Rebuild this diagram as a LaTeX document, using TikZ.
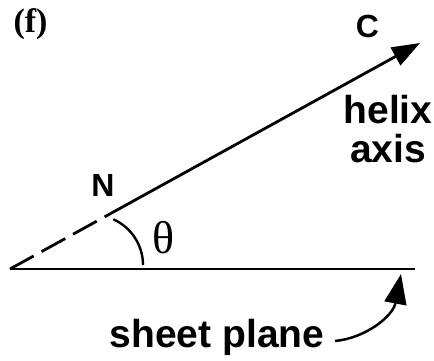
\documentclass[tikz,border=0pt]{standalone}
\usepackage{fontspec}
\setmainfont{Liberation Serif}
\newfontfamily\hv{Liberation Sans}
\usetikzlibrary{arrows.meta,calc}
\newcommand\fsz[1]{\fontsize{#1pt}{#1pt}\selectfont}
\tikzset{
  lbl/.style={font=\hv\bfseries\fsz{32}, inner sep=0pt},
  biglbl/.style={font=\hv\bfseries\fsz{39}, inner sep=0pt, align=center},
  axisline/.style={line width=2.8pt},
  planeline/.style={line width=2.3pt},
}
\begin{document}
\begin{tikzpicture}[x=1pt,y=1pt]
\useasboundingbox (0,0) rectangle (434,361);
\coordinate (apex) at (10,92);
\coordinate (pend) at (415,92);
\coordinate (tip) at (420,318);
\coordinate (npt) at ($(apex)!108pt!(tip)$);
% sheet plane
\draw[planeline] (apex) -- (pend);
% helix axis
\draw[axisline, dash pattern=on 27pt off 9pt] (apex) -- (npt);
\draw[axisline, -{Triangle[length=28pt,width=20pt]}] (npt) -- (tip);
% angle arc
\draw[line width=2.4pt] (93,96) ++(66:50) arc[start angle=66, end angle=0, radius=50];
% labels
\node[font=\bfseries\fsz{34}, inner sep=0pt] (f) at (30.5,337) {(f)};
\node[lbl] (C) at (367.5,335) {C};
\node[lbl] (N) at (103,176) {N};
\node[font=\fsz{46}, inner sep=0pt] (th) at (163.5,123) {θ};
\node[biglbl] (hx) at (388,232) {helix\\axis};
\node[biglbl, anchor=base] (sp) at (217,13) {sheet plane};
\coordinate (cs) at (335,20);
\coordinate (ce) at (401,87);
\draw[line width=2.5pt, -{Triangle[length=30pt,width=22pt]}] (cs) .. controls (366,23) and (393,45) .. (ce);
\end{tikzpicture}
\end{document}
